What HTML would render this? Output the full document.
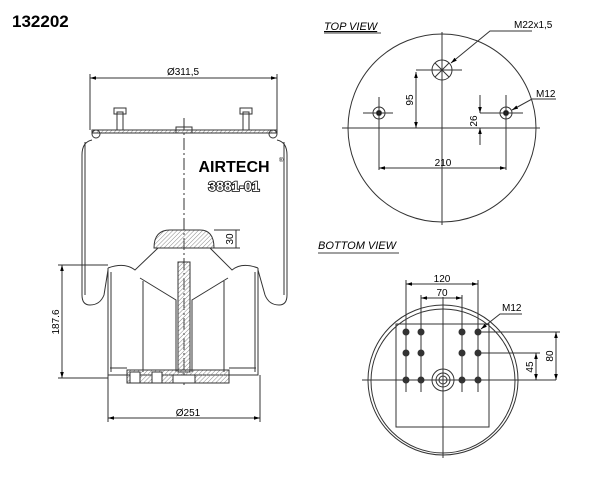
<!DOCTYPE html>
<html><head><style>
body{margin:0;background:#fff;}
svg text{font-family:"Liberation Sans",sans-serif;}
</style></head><body>
<svg width="600" height="472" viewBox="0 0 600 472" xmlns="http://www.w3.org/2000/svg">
<defs>
<marker id="a" viewBox="0 0 10 10" refX="10" refY="5" markerWidth="6" markerHeight="6" orient="auto-start-reverse"><path d="M0,2 L10,5 L0,8z" fill="#000"/></marker>
<pattern id="h" width="3" height="3" patternUnits="userSpaceOnUse" patternTransform="rotate(45)"><line x1="0" y1="0" x2="0" y2="3" stroke="#888" stroke-width="1"/></pattern>
</defs>
<text x="12" y="27" font-size="17" font-weight="bold">132202</text>

<!-- SIDE VIEW -->
<g fill="none" stroke="#333" stroke-width="1">
<line x1="90" y1="78" x2="277" y2="78" marker-start="url(#a)" marker-end="url(#a)"/>
<line x1="90" y1="74" x2="90" y2="130"/><line x1="277" y1="74" x2="277" y2="130"/>
<path d="M92,130 L277,130 L277,133 L92,133 Z" fill="url(#h)"/>
<circle cx="96" cy="134" r="4"/><circle cx="273" cy="134" r="4"/>
<path d="M92,140 Q82,142 82,155 L82,295 Q82,305 90,305 Q100,305 104,295 L108,270"/>
<path d="M277,140 Q287,142 287,155 L287,295 Q287,305 279,305 Q269,305 265,295 L258,270"/>
<path d="M85,142 L85,295 M284,142 L284,295"/>
<rect x="117" y="112" width="6" height="18"/><rect x="114" y="108" width="12" height="6"/>
<rect x="243" y="112" width="6" height="18"/><rect x="240" y="108" width="12" height="6"/>
<rect x="176" y="127" width="16" height="6"/>
<line x1="184" y1="118" x2="184" y2="385" stroke-dasharray="12,3,2,3"/>
<!-- bump -->
<path d="M154,248 Q154,230 170,230 L200,230 Q214,230 214,248 Z" fill="url(#h)"/>
<path d="M108,268 Q125,262 135,270 L158,248 M258,268 Q242,262 232,270 L210,248"/>
<path d="M108,268 L108,375 L258,375 L258,268"/>
<path d="M111,272 L111,372 M255,272 L255,372"/>
<path d="M140,278 L176,300 L176,372 M228,278 L192,300 L192,372"/>
<path d="M143,281 L143,372 M224,281 L224,372"/>
<rect x="178" y="262" width="12" height="110" fill="url(#h)"/>
<rect x="127" y="370" width="102" height="13" fill="url(#h)"/>
<rect x="130" y="372" width="10" height="11" fill="#fff"/><rect x="152" y="372" width="10" height="11" fill="#fff"/>
<rect x="173" y="375" width="22" height="8" fill="#fff"/>
<line x1="110" y1="368" x2="127" y2="368"/><line x1="229" y1="368" x2="256" y2="368"/>
<!-- dims -->
<line x1="62" y1="265" x2="62" y2="378" marker-start="url(#a)" marker-end="url(#a)"/>
<line x1="58" y1="265" x2="108" y2="265"/><line x1="58" y1="378" x2="108" y2="378"/>
<line x1="108" y1="375" x2="108" y2="422"/><line x1="260" y1="375" x2="260" y2="422"/>
<line x1="108" y1="418" x2="260" y2="418" marker-start="url(#a)" marker-end="url(#a)"/>
<line x1="214" y1="230" x2="240" y2="230"/><line x1="214" y1="248" x2="240" y2="248"/>
<line x1="236" y1="230" x2="236" y2="248"/>
</g>
<text x="183" y="75" font-size="10" text-anchor="middle">Ø311,5</text>
<text x="188" y="416" font-size="10" text-anchor="middle">Ø251</text>
<text transform="translate(59,322) rotate(-90)" font-size="10" text-anchor="middle">187.6</text>
<text transform="translate(233,239) rotate(-90)" font-size="10" text-anchor="middle">30</text>
<text x="234" y="172" font-size="16" font-weight="bold" text-anchor="middle">AIRTECH</text>
<text x="279" y="162" font-size="6">®</text>
<text x="234" y="191" font-size="14" font-weight="bold" text-anchor="middle" fill="#fff" stroke="#000" stroke-width="1.6" paint-order="stroke">3881-01</text>

<!-- TOP VIEW -->
<text x="324" y="30" font-size="11" font-style="italic" text-decoration="underline">TOP VIEW</text>
<line x1="324" y1="33" x2="381" y2="33" stroke="#000" stroke-width="0.8"/>
<g fill="none" stroke="#333" stroke-width="1">
<circle cx="442" cy="128" r="94"/>
<line x1="342" y1="128" x2="540" y2="128"/>
<line x1="442" y1="32" x2="442" y2="225"/>
<circle cx="442" cy="70" r="10"/>
<line x1="435" y1="63" x2="449" y2="77"/><line x1="449" y1="63" x2="435" y2="77"/>
<line x1="416" y1="70" x2="462" y2="70"/>
<circle cx="379" cy="113" r="6"/><circle cx="379" cy="113" r="2.5" fill="#000"/>
<line x1="363" y1="113" x2="393" y2="113"/><line x1="379" y1="97" x2="379" y2="170"/>
<circle cx="506" cy="113" r="6"/><circle cx="506" cy="113" r="2.5" fill="#000"/>
<line x1="480" y1="113" x2="523" y2="113"/><line x1="506" y1="95" x2="506" y2="170"/>
<line x1="416" y1="72" x2="416" y2="128" marker-start="url(#a)" marker-end="url(#a)"/>
<line x1="480" y1="95" x2="480" y2="113" marker-end="url(#a)"/>
<line x1="480" y1="145" x2="480" y2="128" marker-end="url(#a)"/>
<line x1="379" y1="168" x2="506" y2="168" marker-start="url(#a)" marker-end="url(#a)"/>
<path d="M532,31 L490,31 L451,63" marker-end="url(#a)"/>
<path d="M556,99 L532,99 L512,110" marker-end="url(#a)"/>
</g>
<text x="514" y="28" font-size="10">M22x1,5</text>
<text x="536" y="97" font-size="10">M12</text>
<text x="443" y="166" font-size="10" text-anchor="middle">210</text>
<text transform="translate(413,100) rotate(-90)" font-size="10" text-anchor="middle">95</text>
<text transform="translate(477,121) rotate(-90)" font-size="10" text-anchor="middle">26</text>

<!-- BOTTOM VIEW -->
<text x="318" y="249" font-size="11" font-style="italic">BOTTOM VIEW</text>
<line x1="318" y1="253" x2="399" y2="253" stroke="#000" stroke-width="0.8"/>
<g fill="none" stroke="#333" stroke-width="1">
<circle cx="443" cy="380" r="75"/><circle cx="443" cy="381" r="72"/>
<line x1="362" y1="380" x2="556" y2="380"/>
<line x1="443" y1="297" x2="443" y2="458"/>
<rect x="396" y="324" width="93" height="103"/>
<g fill="#333">
<circle cx="406" cy="332" r="3"/><circle cx="421" cy="332" r="3"/><circle cx="462" cy="332" r="3"/><circle cx="478" cy="332" r="3"/>
<circle cx="406" cy="353" r="3"/><circle cx="421" cy="353" r="3"/><circle cx="462" cy="353" r="3"/><circle cx="478" cy="353" r="3"/>
<circle cx="406" cy="380" r="3"/><circle cx="421" cy="380" r="3"/><circle cx="462" cy="380" r="3"/><circle cx="478" cy="380" r="3"/>
</g>
<circle cx="443" cy="380" r="11"/><circle cx="443" cy="380" r="7"/><circle cx="443" cy="380" r="4"/>
<line x1="406" y1="280" x2="406" y2="392"/><line x1="478" y1="280" x2="478" y2="392"/>
<line x1="421" y1="295" x2="421" y2="392"/><line x1="462" y1="295" x2="462" y2="392"/>
<line x1="406" y1="284" x2="478" y2="284" marker-start="url(#a)" marker-end="url(#a)"/>
<line x1="421" y1="298" x2="462" y2="298" marker-start="url(#a)" marker-end="url(#a)"/>
<line x1="478" y1="332" x2="560" y2="332"/><line x1="478" y1="353" x2="540" y2="353"/>
<line x1="556" y1="332" x2="556" y2="380" marker-start="url(#a)" marker-end="url(#a)"/>
<line x1="536" y1="353" x2="536" y2="380" marker-start="url(#a)" marker-end="url(#a)"/>
<path d="M522,314 L500,314 L481,329" marker-end="url(#a)"/>
</g>
<text x="442" y="282" font-size="10" text-anchor="middle">120</text>
<text x="442" y="296" font-size="10" text-anchor="middle">70</text>
<text x="502" y="311" font-size="10">M12</text>
<text transform="translate(553,356) rotate(-90)" font-size="10" text-anchor="middle">80</text>
<text transform="translate(533,367) rotate(-90)" font-size="10" text-anchor="middle">45</text>
</svg>
</body></html>
